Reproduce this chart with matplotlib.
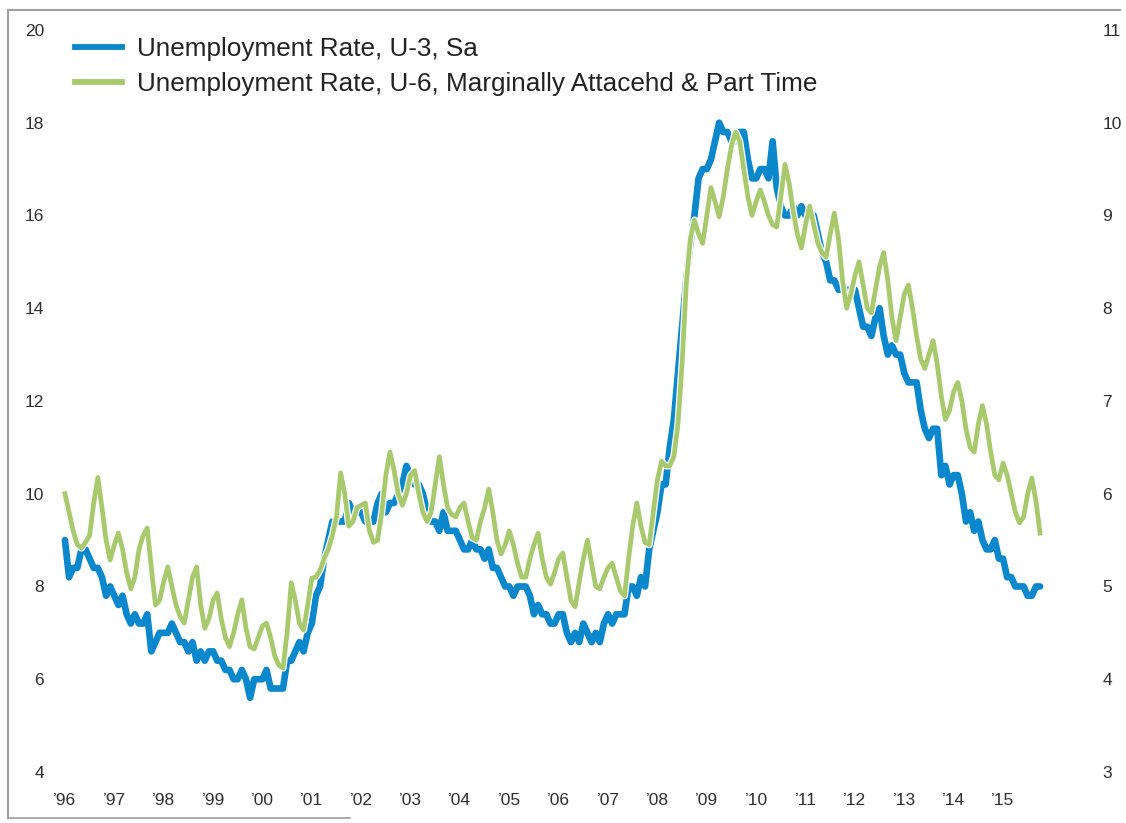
import matplotlib.pyplot as plt
import matplotlib.patheffects as pe
from matplotlib.lines import Line2D
import numpy as np

plt.rcParams['font.family'] = ['Liberation Sans', 'DejaVu Sans']

# monthly data, Jul 1996 .. Apr 2016
# U-3, seasonally adjusted (right axis)
u3_rate = [
    5.5, 5.1, 5.2, 5.2, 5.4, 5.4,                                   # 1996 (Jul-Dec)
    5.3, 5.2, 5.2, 5.1, 4.9, 5.0, 4.9, 4.8, 4.9, 4.7, 4.6, 4.7,     # 1997
    4.6, 4.6, 4.7, 4.3, 4.4, 4.5, 4.5, 4.5, 4.6, 4.5, 4.4, 4.4,     # 1998
    4.3, 4.4, 4.2, 4.3, 4.2, 4.3, 4.3, 4.2, 4.2, 4.1, 4.1, 4.0,     # 1999
    4.0, 4.1, 4.0, 3.8, 4.0, 4.0, 4.0, 4.1, 3.9, 3.9, 3.9, 3.9,     # 2000
    4.2, 4.2, 4.3, 4.4, 4.3, 4.5, 4.6, 4.9, 5.0, 5.3, 5.5, 5.7,     # 2001
    5.7, 5.7, 5.7, 5.9, 5.8, 5.8, 5.8, 5.7, 5.7, 5.7, 5.9, 6.0,     # 2002
    5.8, 5.9, 5.9, 6.0, 6.1, 6.3, 6.2, 6.1, 6.1, 6.0, 5.8, 5.7,     # 2003
    5.7, 5.6, 5.8, 5.6, 5.6, 5.6, 5.5, 5.4, 5.4, 5.5, 5.4, 5.4,     # 2004
    5.3, 5.4, 5.2, 5.2, 5.1, 5.0, 5.0, 4.9, 5.0, 5.0, 5.0, 4.9,     # 2005
    4.7, 4.8, 4.7, 4.7, 4.6, 4.6, 4.7, 4.7, 4.5, 4.4, 4.5, 4.4,     # 2006
    4.6, 4.5, 4.4, 4.5, 4.4, 4.6, 4.7, 4.6, 4.7, 4.7, 4.7, 5.0,     # 2007
    5.0, 4.9, 5.1, 5.0, 5.4, 5.6, 5.8, 6.1, 6.1, 6.5, 6.8, 7.3,     # 2008
    7.8, 8.3, 8.7, 9.0, 9.4, 9.5, 9.5, 9.6, 9.8, 10.0, 9.9, 9.9,    # 2009
    9.8, 9.8, 9.9, 9.9, 9.6, 9.4, 9.4, 9.5, 9.5, 9.4, 9.8, 9.3,     # 2010
    9.1, 9.0, 9.0, 9.1, 9.0, 9.1, 9.0, 9.0, 9.0, 8.8, 8.6, 8.5,     # 2011
    8.3, 8.3, 8.2, 8.2, 8.2, 8.2, 8.2, 8.0, 7.8, 7.8, 7.7, 7.9,     # 2012
    8.0, 7.7, 7.5, 7.6, 7.5, 7.5, 7.3, 7.2, 7.2, 7.2, 6.9, 6.7,     # 2013
    6.6, 6.7, 6.7, 6.2, 6.3, 6.1, 6.2, 6.2, 6.0, 5.7, 5.8, 5.6,     # 2014
    5.7, 5.5, 5.4, 5.4, 5.5, 5.3, 5.3, 5.1, 5.1, 5.0, 5.0, 5.0,     # 2015
    4.9, 4.9, 5.0, 5.0,                                             # 2016 (Jan-Apr)
]

# U-6, marginally attached & part time, not seasonally adjusted (left axis)
u6_rate = [
    10.0, 9.6, 9.2, 8.9, 8.83, 8.95,                                       # 1996
    9.1, 9.8, 10.35, 9.7, 9.0, 8.57, 8.9, 9.15, 8.8, 8.3, 7.95, 8.2,       # 1997
    8.8, 9.1, 9.26, 8.4, 7.6, 7.7, 8.1, 8.42, 8.0, 7.6, 7.35, 7.21,        # 1998
    7.7, 8.2, 8.42, 7.6, 7.1, 7.3, 7.7, 7.86, 7.3, 6.9, 6.7, 7.0,          # 1999
    7.4, 7.71, 7.1, 6.7, 6.65, 6.9, 7.15, 7.21, 6.9, 6.5, 6.3, 6.24,       # 2000
    7.0, 8.08, 7.7, 7.2, 7.06, 7.6, 8.18, 8.2, 8.35, 8.6, 8.8, 9.1,        # 2001
    9.5, 10.45, 10.0, 9.3, 9.4, 9.7, 9.75, 9.8, 9.2, 8.95, 9.0, 9.6,       # 2002
    10.4, 10.9, 10.5, 10.0, 9.75, 10.0, 10.4, 10.5, 10.0, 9.6, 9.4, 9.6,   # 2003
    10.2, 10.8, 10.2, 9.7, 9.55, 9.5, 9.7, 9.8, 9.4, 9.05, 9.0, 9.4,       # 2004
    9.7, 10.1, 9.6, 9.0, 8.7, 8.9, 9.2, 8.9, 8.5, 8.2, 8.2, 8.6,           # 2005
    8.9, 9.15, 8.6, 8.2, 8.05, 8.3, 8.6, 8.72, 8.2, 7.7, 7.56, 8.1,        # 2006
    8.6, 9.0, 8.5, 8.0, 7.95, 8.2, 8.4, 8.5, 8.2, 7.9, 7.8, 8.6,           # 2007
    9.3, 9.8, 9.3, 8.95, 8.9, 9.6, 10.3, 10.7, 10.6, 10.6, 10.8, 11.5,     # 2008
    12.8, 14.5, 15.5, 15.9, 15.6, 15.4, 16.0, 16.6, 16.3, 15.97, 16.4, 17.0,  # 2009
    17.5, 17.8, 17.6, 17.0, 16.4, 16.0, 16.3, 16.55, 16.3, 16.0, 15.8, 15.75, # 2010
    16.4, 17.1, 16.7, 16.1, 15.6, 15.3, 15.8, 16.2, 15.8, 15.4, 15.2, 15.1,   # 2011
    15.6, 16.05, 15.5, 14.6, 14.0, 14.3, 14.7, 15.0, 14.5, 14.0, 13.9, 14.4,  # 2012
    14.9, 15.2, 14.6, 13.8, 13.3, 13.8, 14.3, 14.5, 14.0, 13.4, 12.9, 12.7,   # 2013
    13.0, 13.3, 12.8, 12.1, 11.6, 11.8, 12.2, 12.4, 12.0, 11.4, 11.0, 10.9,   # 2014
    11.5, 11.9, 11.5, 10.9, 10.4, 10.3, 10.66, 10.4, 10.0, 9.6, 9.37, 9.5,    # 2015
    10.0, 10.34, 9.85, 9.15,                                                  # 2016
]

tick_years = list(range(1996, 2016))
tick_labels = ["\u2019" + str(y)[2:] for y in tick_years]

dates = 1996.5 + np.arange(len(u3_rate)) / 12.0

blue = '#0b87cc'
green = '#a8c96c'
text_col = '#2e2e2e'

fig = plt.figure(figsize=(11.26, 8.23), dpi=100)
fig.patch.set_facecolor('white')
ax = fig.add_axes([0.0489, 0.062, 0.8945, 0.9016])
ax2 = ax.twinx()
ax.set_zorder(2)
ax2.set_zorder(1)
ax.patch.set_visible(False)

ax2.plot(dates, u3_rate, color=blue, lw=4.8, solid_capstyle='round', solid_joinstyle='round')
ax.plot(dates, u6_rate, color=green, lw=3.4, solid_joinstyle='round',
        path_effects=[pe.Stroke(linewidth=5.2, foreground='white'), pe.Normal()])

ax.set_xlim(1996.3, 2016.7)
ax.set_ylim(4, 20)
ax2.set_ylim(3, 11)
ax.set_yticks(range(4, 21, 2))
ax2.set_yticks(range(3, 12))
ax.set_xticks([y + 0.5 for y in tick_years])
ax.set_xticklabels(tick_labels)

for a in (ax, ax2):
    for s in a.spines.values():
        s.set_visible(False)
ax.tick_params(axis='y', length=0, pad=8, labelsize=12.5, labelcolor=text_col)
ax.tick_params(axis='x', length=0, pad=15, labelsize=12.5, labelcolor=text_col)
ax2.tick_params(axis='y', length=0, pad=29, labelsize=12.5, labelcolor=text_col)

handles = [Line2D([], [], color=blue, lw=4.2), Line2D([], [], color=green, lw=4.2)]
labels = ['Unemployment Rate, U-3, Sa',
          'Unemployment Rate, U-6, Marginally Attacehd & Part Time']
leg = ax.legend(handles, labels, loc='upper left', bbox_to_anchor=(75 / 1126, 1 - 37 / 823),
                bbox_transform=fig.transFigure, frameon=False, fontsize=18.8,
                handlelength=1.8, handletextpad=0.57, labelspacing=0.42,
                borderpad=0, borderaxespad=0)
for t in leg.get_texts():
    t.set_color('#222222')

# scanned page border
border = '#a0a0a0'
fig.add_artist(Line2D([8 / 1126, 8 / 1126], [1 - 10 / 823, 1 - 818 / 823],
                      transform=fig.transFigure, color=border, lw=1.5))
fig.add_artist(Line2D([8 / 1126, 1120 / 1126], [1 - 10 / 823, 1 - 10 / 823],
                      transform=fig.transFigure, color=border, lw=1.5))
fig.add_artist(Line2D([8 / 1126, 350 / 1126], [1 - 818 / 823, 1 - 818 / 823],
                      transform=fig.transFigure, color=border, lw=1.2))

fig.savefig('out.png', dpi=100)
